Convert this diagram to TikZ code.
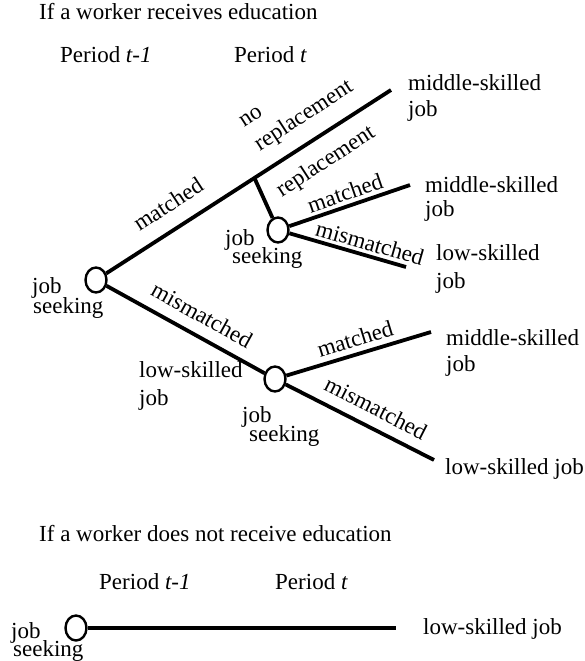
\documentclass[tikz,border=0pt]{standalone}
\usepackage{fontspec}
\setmainfont{Liberation Serif}
\usetikzlibrary{shapes.geometric,calc}
\begin{document}
\begin{tikzpicture}[x=1pt,y=-1pt,
  every node/.style={font=\fontsize{23}{25}\selectfont, inner sep=0pt},
  seek/.style={draw, ellipse, line width=2.4pt, minimum width=21pt, minimum height=25pt, inner sep=0pt},
  branch/.style={line width=3.8pt},
  txt/.style={anchor=base west}]
\useasboundingbox (0,0) rectangle (585,661);
% top part
\node[txt] (t1) at (39,20) {If a worker receives education};
\node[txt] (p1) at (60,63) {Period \textit{t-1}};
\node[txt] (p2) at (234,63) {Period \textit{t}};
\node[seek] (r) at (96,280) {};
\node[seek] (c2) at (278,230) {};
\node[seek] (c3) at (275,379) {};
\coordinate (e1) at (391,90);
\coordinate (bp) at ($(r)!0.537!(e1)$);
\coordinate (e2) at (410,185);
\coordinate (e3) at (406,267);
\coordinate (e4) at (431,332);
\coordinate (e5) at (434,460);
\draw[branch] (r) -- (e1);
\draw[branch] (bp) -- (c2);
\draw[branch] (c2) -- (e2);
\draw[branch] (c2) -- (e3);
\draw[branch] (r) -- (c3);
\draw[branch] (c3) -- (e4);
\draw[branch] (c3) -- (e5);
% branch labels
\node[rotate=33] (lm) at (168,204) {matched};
\node[rotate=33] (nr1) at (251,117) {no};
\node[rotate=33] (nr2) at (304,116) {replacement};
\node[rotate=33] (rp) at (326,162) {replacement};
\node[rotate=19] (lm2) at (345,193) {matched};
\node[rotate=-16] (lmm2) at (370,243) {mismatched};
\node[rotate=-29] (lmm1) at (202,315) {mismatched};
\node[rotate=17] (lm3) at (355,339) {matched};
\node[rotate=-27] (lmm3) at (376,408) {mismatched};
% end labels
\node[txt] (m1a) at (408,90) {middle-skilled};
\node[txt] (m1b) at (408,116) {job};
\node[txt] (m2a) at (425,192) {middle-skilled};
\node[txt] (m2b) at (425,216) {job};
\node[txt] (l2a) at (436,260) {low-skilled};
\node[txt] (l2b) at (436,288) {job};
\node[txt] (m3a) at (446,345) {middle-skilled};
\node[txt] (m3b) at (446,371) {job};
\node[txt] (l3) at (445,474) {low-skilled job};
% node labels
\node[txt] (js1a) at (32,293) {job};
\node[txt] (js1b) at (33,313) {seeking};
\node[txt] (js2a) at (225,245) {job};
\node[txt] (js2b) at (232,263) {seeking};
\node[txt] (lsa) at (139,377) {low-skilled};
\node[txt] (lsb) at (139,405) {job};
\node[txt] (js3a) at (242,422) {job};
\node[txt] (js3b) at (249,441) {seeking};
% bottom part
\node[txt] (t2) at (39,541) {If a worker does not receive education};
\node[txt] (p3) at (99,589) {Period \textit{t-1}};
\node[txt] (p4) at (275,589) {Period \textit{t}};
\node[seek] (b) at (76,628) {};
\coordinate (be) at (396,628);
\draw[branch] (b) -- (be);
\node[txt] (lb) at (423,634) {low-skilled job};
\node[txt] (jb1) at (11,638) {job};
\node[txt] (jb2) at (13,656) {seeking};
\end{tikzpicture}
\end{document}
